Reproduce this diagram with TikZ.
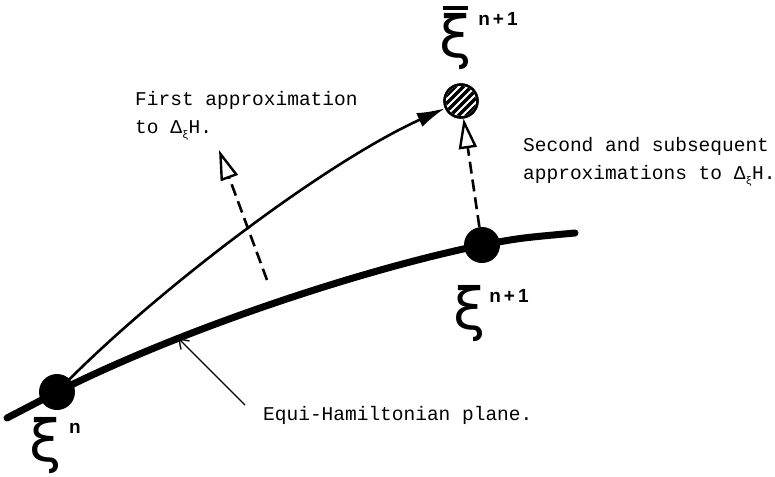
\documentclass[tikz,border=0pt]{standalone}
\usepackage{fontspec}
\setmonofont{Liberation Mono}
\setsansfont{Liberation Sans}
\newfontfamily\xifont{DejaVu Sans}
\usetikzlibrary{arrows.meta,calc}
\newcommand{\dxiH}{Δ\raisebox{-0.45ex}{\fontsize{11}{11}\selectfont ξ}H}
\begin{document}
\begin{tikzpicture}[x=1pt,y=-1pt,
  dotnode/.style={circle,fill=black,inner sep=0pt,minimum size=36pt},
  hatchnode/.style={circle,draw=black,line width=2.4pt,inner sep=0pt,minimum size=33pt},
  plane/.style={line width=7pt,line cap=round},
  traj/.style={line width=2.6pt},
  approx/.style={line width=2.6pt,dash pattern=on 12pt off 6pt,
     -{Triangle[open,length=30pt,width=18pt,line width=2.4pt]}},
  pointer/.style={line width=1.4pt,-{Straight Barb[length=9pt,width=12pt,line width=1.4pt]}},
  tw/.style={font=\fontsize{19.5}{28}\selectfont\ttfamily,inner sep=0pt},
  bigxi/.style={font=\fontsize{58}{58}\selectfont\xifont,inner sep=0pt},
  supl/.style={font=\fontsize{19}{19}\selectfont\sffamily\bfseries,inner sep=0pt}]
\useasboundingbox (0,0) rectangle (775,476);

% positions
\coordinate (L) at (7,418);
\coordinate (R) at (575,233);
\coordinate (a) at (57,392);
\coordinate (b) at (482,245);

% equi-hamiltonian plane
\draw[plane] (L) -- (a) .. controls (180,330) and (360,270) .. (b) .. controls (520,238) .. (R);

% trajectory
\node[hatchnode] (h) at (461,101) {};
\begin{scope}
  \clip (h.center) circle (15pt);
  \foreach \k in {-28,-20,...,28}
    \draw[line width=3.4pt] ($(h.center)+(\k,0)+(-25,25)$) -- ++(50,-50);
\end{scope}
\node[hatchnode] at (h.center) {};

\draw[traj,-{Latex[length=28pt,width=15pt]}] (a) .. controls (145,300) and (320,165) .. (h);

% dots
\node[dotnode] (n0) at (a) {};
\node[dotnode] (n1) at (b) {};

% approximation arrows
\coordinate (f0) at (267,280);
\coordinate (f1) at (219,150);
\draw[approx] (f0) -- (f1);
\draw[approx] (n1) -- (h);

% pointer
\node[tw,anchor=west] (eq) at (263,415) {Equi-Hamiltonian plane.};
\coordinate (p0) at (245,405);
\coordinate (p1) at (178,338);
\draw[pointer] (p0) -- (p1);

% texts
\node[tw,anchor=west,align=left] (t1) at (135,116) {First approximation\\to \dxiH.};
\node[tw,anchor=west,align=left] (t2) at (523,162) {Second and subsequent\\approximations to \dxiH.};

% labels
\node[bigxi] (xbar) at (456,42) {ξ};
\draw[line width=4pt] (443,8) -- (468,8);
\node[supl] (sbar) at (498,19) {n\kern3pt+\kern3pt1};
\node[bigxi] (x1) at (470,314) {ξ};
\node[supl] (s1) at (509,296) {n\kern3pt+\kern3pt1};
\node[bigxi] (x0) at (46,446) {ξ};
\node[supl] (s0) at (75,428) {n};
\end{tikzpicture}
\end{document}
